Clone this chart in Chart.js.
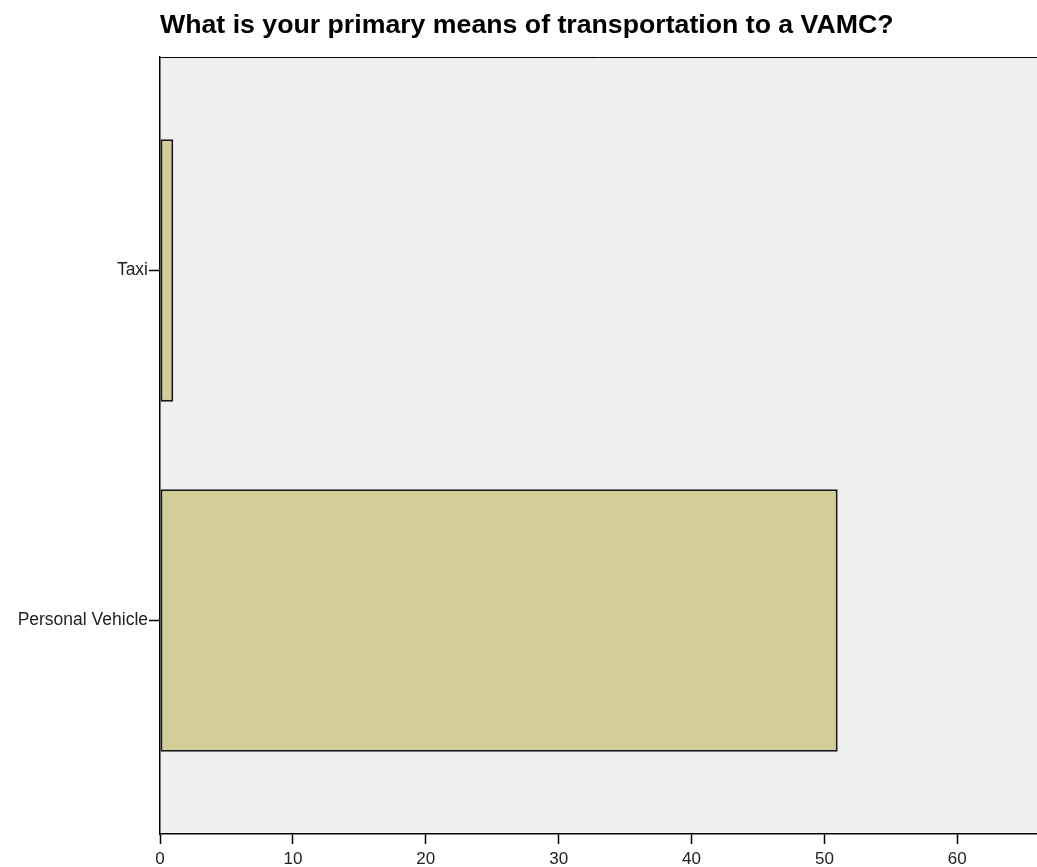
<!DOCTYPE html>
<html>
<head>
<meta charset="utf-8">
<script src="https://cdn.jsdelivr.net/npm/chart.js@4.4.1/dist/chart.umd.min.js"></script>
<style>
  html, body { margin: 0; padding: 0; background: #ffffff; }
  #wrap { width: 1037px; height: 867px; }
</style>
</head>
<body>
<div id="wrap"><canvas id="myChart" width="1037" height="867"></canvas></div>
<script>
// Categories (top to bottom) and their counts
var categories = ['Taxi', 'Personal Vehicle'];
var counts = [1, 51];

// Tick labels for the count axis
var xTickValues = [0, 10, 20, 30, 40, 50, 60];

var titleText = 'What is your primary means of transportation to a VAMC?';

// Each bar sits at its category index on a linear y scale
var barData = counts.map(function (v, i) { return { x: v, y: i }; });

// Grey plot background and the top frame line
const framePlugin = {
    id: 'framePlugin',
    beforeDraw(chart) {
        const a = chart.chartArea;
        const ctx = chart.ctx;
        ctx.save();
        ctx.fillStyle = '#f0f0f0';
        ctx.fillRect(a.left, a.top, a.right - a.left, a.bottom - a.top);
        ctx.restore();
    },
    afterDraw(chart) {
        const a = chart.chartArea;
        const ctx = chart.ctx;
        ctx.save();
        ctx.strokeStyle = '#000000';
        ctx.lineWidth = 1;
        ctx.beginPath();
        ctx.moveTo(a.left, a.top + 0.5);
        ctx.lineTo(a.right, a.top + 0.5);
        ctx.stroke();
        ctx.restore();
    }
};

var ctx = document.getElementById('myChart').getContext('2d');

var myChart = new Chart(ctx, {
    type: 'bar',
    data: {
        datasets: [{
            label: 'Count',
            data: barData,
            backgroundColor: '#d3cd98',
            borderColor: '#1a1a1a',
            borderWidth: 2,
            borderSkipped: false,
            categoryPercentage: 1,
            barPercentage: 0.75
        }]
    },
    plugins: [framePlugin],
    options: {
        responsive: false,
        animation: false,
        indexAxis: 'y',
        layout: { padding: 0 },
        scales: {
            x: {
                type: 'linear',
                min: 0,
                max: 66,
                afterBuildTicks: function (scale) {
                    scale.ticks = xTickValues.map(function (v) { return { value: v }; });
                },
                afterFit: function (scale) { scale.height = 33; },
                grid: {
                    drawOnChartArea: false,
                    tickLength: 10,
                    tickColor: '#000000',
                    tickWidth: 1.5
                },
                border: { color: '#000000', width: 1.5 },
                ticks: {
                    color: '#222222',
                    font: { family: 'Liberation Sans, Arial, sans-serif', size: 17 },
                    padding: 5,
                    maxRotation: 0
                }
            },
            y: {
                type: 'linear',
                min: -0.61,
                max: 1.61,
                reverse: true,
                offset: false,
                afterBuildTicks: function (scale) {
                    scale.ticks = categories.map(function (c, i) { return { value: i }; });
                },
                afterFit: function (scale) { scale.width = 160; },
                grid: {
                    offset: false,
                    drawOnChartArea: false,
                    tickLength: 11,
                    tickColor: '#000000',
                    tickWidth: 1.5
                },
                border: { color: '#000000', width: 1.5 },
                ticks: {
                    color: '#222222',
                    font: { family: 'Liberation Sans, Arial, sans-serif', size: 17.5 },
                    padding: 1,
                    callback: function (value) { return categories[value]; }
                }
            }
        },
        plugins: {
            legend: { display: false },
            tooltip: { enabled: false },
            title: {
                display: true,
                text: titleText,
                align: 'start',
                fullSize: false,
                color: '#000000',
                font: { family: 'Liberation Sans, Arial, sans-serif', size: 26.7, weight: 'bold', lineHeight: 1.2 },
                padding: { top: 10, bottom: 15 }
            }
        }
    }
});
</script>
</body>
</html>
